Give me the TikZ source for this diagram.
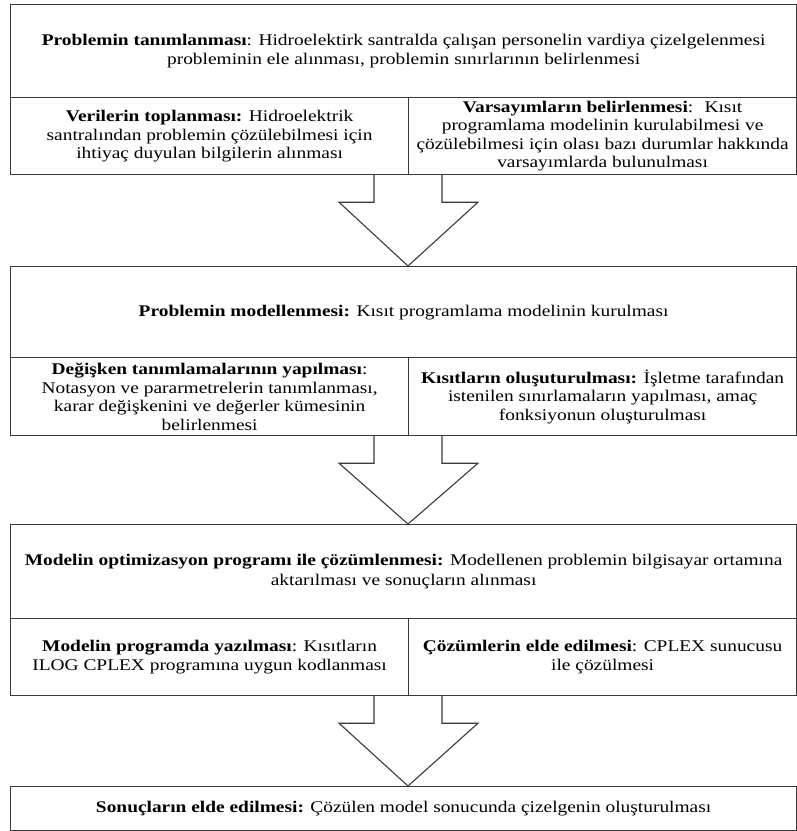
\documentclass[tikz,border=0pt]{standalone}
\usepackage{fontspec}
\setmainfont{Liberation Serif}[FakeStretch=1.19]
\usetikzlibrary{calc}
\definecolor{linec}{HTML}{3A3A3A}
\tikzset{
  box/.style={draw=linec, line width=1.2pt, fill=white, inner sep=0pt, align=center,
    anchor=north west, font=\fontsize{16.3}{18.5}\selectfont},
  hbox/.style={box, font=\fontsize{16.3}{19.5}\selectfont},
  blockarrow/.style={draw=linec, line width=1.1pt, line join=miter}
}
\begin{document}
\begin{tikzpicture}[x=1pt,y=-1pt]
\useasboundingbox (0,0) rectangle (797,831);
% group 1
\node[hbox, minimum width=786pt, minimum height=93pt] (h1) at (10,4)
  {\textbf{Problemin tanımlanması}: Hidroelektirk santralda çalışan personelin vardiya çizelgelenmesi\\
   probleminin ele alınması, problemin sınırlarının belirlenmesi};
\node[box, minimum width=398pt, minimum height=77pt] (s1l) at (10,97)
  {\textbf{Verilerin toplanması:} Hidroelektrik\\
   santralından problemin çözülebilmesi için\\
   ihtiyaç duyulan bilgilerin alınması};
\node[box, minimum width=388pt, minimum height=77pt] (s1r) at (408,97)
  {\textbf{Varsayımların belirlenmesi}:~ Kısıt\\
   programlama modelinin kurulabilmesi ve\\
   çözülebilmesi için olası bazı durumlar hakkında\\
   varsayımlarda bulunulması};
% group 2
\node[hbox, minimum width=786pt, minimum height=91pt] (h2) at (10,266)
  {\textbf{Problemin modellenmesi:} Kısıt programlama modelinin kurulması};
\node[box, minimum width=398pt, minimum height=78pt] (s2l) at (10,357)
  {\textbf{Değişken tanımlamalarının yapılması}:\\
   Notasyon ve pararmetrelerin tanımlanması,\\
   karar değişkenini ve değerler kümesinin\\
   belirlenmesi};
\node[box, minimum width=388pt, minimum height=78pt] (s2r) at (408,357)
  {\textbf{Kısıtların oluşuturulması:} İşletme tarafından\\
   istenilen sınırlamaların yapılması, amaç\\
   fonksiyonun oluşturulması};
% group 3
\node[hbox, minimum width=786pt, minimum height=94pt] (h3) at (10,524)
  {\textbf{Modelin optimizasyon programı ile çözümlenmesi:} Modellenen problemin bilgisayar ortamına\\
   aktarılması ve sonuçların alınması};
\node[box, minimum width=398pt, minimum height=77pt] (s3l) at (10,618)
  {\textbf{Modelin programda yazılması}: Kısıtların\\
   ILOG CPLEX programına uygun kodlanması};
\node[box, minimum width=388pt, minimum height=77pt] (s3r) at (408,618)
  {\textbf{Çözümlerin elde edilmesi}: CPLEX sunucusu\\
   ile çözülmesi};
% group 4
\node[hbox, minimum width=786pt, minimum height=44pt] (h4) at (10,786)
  {\textbf{Sonuçların elde edilmesi:} Çözülen model sonucunda çizelgenin oluşturulması};
% block arrows
\coordinate (a1) at (s1r.south west);
\coordinate (a2) at (s2r.south west);
\coordinate (a3) at (s3r.south west);
\draw[blockarrow] ($(a1)+(-34,0)$) -- ++(0,27) -- ++(-35,0) -- (h2.north -| a1) -- ($(a1)+(70,27)$) -- ++(-36,0) -- ++(0,-27);
\draw[blockarrow] ($(a2)+(-34,0)$) -- ++(0,27) -- ++(-35,0) -- (h3.north -| a2) -- ($(a2)+(70,27)$) -- ++(-36,0) -- ++(0,-27);
\draw[blockarrow] ($(a3)+(-34,0)$) -- ++(0,27) -- ++(-35,0) -- (h4.north -| a3) -- ($(a3)+(70,27)$) -- ++(-36,0) -- ++(0,-27);
\end{tikzpicture}
\end{document}
